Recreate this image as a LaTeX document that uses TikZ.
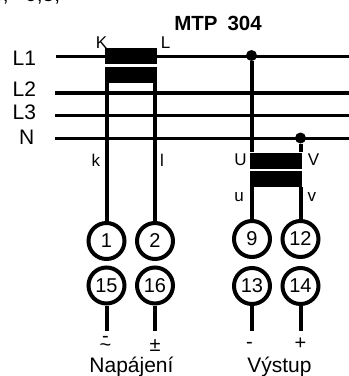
\documentclass[tikz,border=0pt]{standalone}
\usepackage{fontspec}
\setmainfont{Liberation Sans}
\usetikzlibrary{positioning}
\tikzset{
	phase/.style={line width=3pt},
	lead/.style={line width=4pt},
	coil/.style={fill=black, draw=none, minimum width=52pt, minimum height=16pt, inner sep=0pt},
	term/.style={circle, draw, line width=4pt, fill=white, minimum size=36pt, inner sep=0pt, font=\fontsize{20}{20}\selectfont},
	tag/.style={inner sep=0pt, font=\fontsize{17}{17}\selectfont},
	sign/.style={inner sep=0pt, font=\fontsize{20}{20}\selectfont},
	phname/.style={inner sep=0pt, anchor=base west, font=\fontsize{21}{21}\selectfont},
	dot/.style={circle, fill=black, inner sep=0pt, minimum size=11pt}
}
\begin{document}
\begin{tikzpicture}[x=1pt,y=-1pt]
		\useasboundingbox (0,0) rectangle (349,376);
		% line cut off at the top
		\begin{scope}
			\clip (0,0) rectangle (349,376);
			\node[phname] (head) at (-9,1) {e,\hspace{16.5pt}0,5;};
		\end{scope}
		
		\node[inner sep=0pt, anchor=base, font=\bfseries\fontsize{20.5}{20.5}\selectfont] (title) at (218,30.5) {MTP\hspace{10pt}304};
		
		\coordinate (l1a) at (56,56);
		\coordinate (l1b) at (349,56);
		\coordinate (l2a) at (55,93);
		\coordinate (l2b) at (349,93);
		\coordinate (l3a) at (55,115.5);
		\coordinate (l3b) at (349,115.5);
		\coordinate (na) at (55,138);
		\coordinate (nb) at (349,138);
		
		\draw[phase] (l1a) -- (l1b);
		\draw[phase, line width=4pt] (l2a) -- (l2b);
		\draw[phase] (l3a) -- (l3b);
		\draw[phase] (na) -- (nb);
		
		\node[phname] (lb1) at (12.5,65) {L1};
		\node[phname] (lb2) at (12.5,96) {L2};
		\node[phname] (lb3) at (12.5,119) {L3};
		\node[phname] (lbn) at (19,144) {N};
		
		\node[term] (t1) at (106.5,241) {1};
		\node[term] (t2) at (155,241) {2};
		\node[term] (t15) at (106.5,285.5) {15};
		\node[term] (t16) at (155,285.5) {16};
		\node[term] (t9) at (252,239) {9};
		\node[term] (t12) at (300.5,239) {12};
		\node[term] (t13) at (252,286) {13};
		\node[term] (t14) at (300.5,286) {14};
		
		\node[coil] (cia) at (131,56) {};
		\node[coil] (cib) at (131,74.5) {};
		\node[coil] (cua) at (276,160.5) {};
		\node[coil] (cub) at (276,178.5) {};
		
		\node[dot] (d1) at (251.5,55.5) {};
		\node[dot] (dn) at (300.5,138) {};
		
		\coordinate (e15) at (106.5,330.5);
		\coordinate (e16) at (155,330.5);
		\coordinate (e13) at (252,330.5);
		\coordinate (e14) at (300.5,330.5);
		
		\draw[lead] (t1) -- (t1 |- cib.south);
		\draw[lead] (t2) -- (t2 |- cib.south);
		\draw[lead] (t9) -- (t9 |- cub.south);
		\draw[lead] (t12) -- (t12 |- cub.south);
		\draw[lead] (d1) -- (d1 |- cua.north);
		\draw[lead] (dn) -- (dn |- cua.north);
		\draw[lead] (t15) -- (e15);
		\draw[lead] (t16) -- (e16);
		\draw[lead] (t13) -- (e13);
		\draw[lead] (t14) -- (e14);
		
		\node[tag] (lk) at (101.5,43) {K};
		\node[tag] (ll) at (165.5,43) {L};
		\node[tag] (lks) at (96,160.5) {k};
		\node[tag] (lls) at (162,160.5) {l};
		\node[tag] (lu) at (240.5,160) {U};
		\node[tag] (lv) at (313.5,160) {V};
		\node[tag] (lus) at (239,197) {u};
		\node[tag] (lvs) at (312,197) {v};
		
		\node[sign, align=center] (m1) at (105.5,344) {-\\[-11pt]\textasciitilde};
		\node[sign] (m2) at (155,346) {±};
		\node[sign] (m3) at (249.5,345) {-};
		\node[sign] (m4) at (300.5,344) {+};
		
		\node[phname, anchor=base] (nap) at (131.5,372) {Napájení};
		\node[phname, anchor=base] (vys) at (279.5,372) {Výstup};
	\end{tikzpicture}
\end{document}
